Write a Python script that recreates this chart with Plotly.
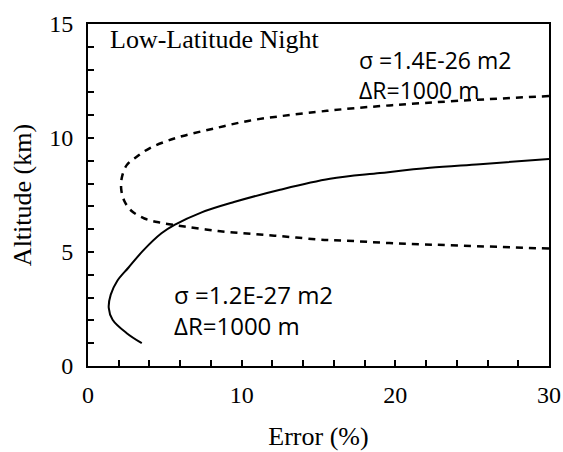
import plotly.graph_objects as go

# sigma = 1.2E-27 m2 (solid)
solid_err = [3.5, 2.5, 1.6, 1.35, 1.48, 1.9, 2.64, 3.6, 4.78, 5.63, 7.36, 9.5, 12.5, 15.75, 19.0, 22.25, 25.5, 30.0]
solid_alt = [1.0, 1.45, 2.03, 2.55, 3.13, 3.73, 4.32, 5.07, 5.82, 6.19, 6.73, 7.19, 7.73, 8.21, 8.46, 8.69, 8.85, 9.08]

# sigma = 1.4E-26 m2 (dashed)
dash_err = [30.0, 24.3, 20.0, 16.7, 15.0, 12.8, 10.6, 8.46, 6.28, 4.76, 3.67, 2.8, 2.35, 2.16, 2.21, 2.52, 3.17,
            4.03, 5.1, 6.18, 8.34, 10.5, 12.67, 14.83, 16.56, 19.8, 24.1, 30.0]
dash_alt = [5.15, 5.28, 5.38, 5.5, 5.55, 5.68, 5.8, 5.92, 6.12, 6.28, 6.47, 6.82, 7.26, 7.77, 8.29, 8.81, 9.18,
            9.56, 9.86, 10.09, 10.44, 10.76, 10.97, 11.14, 11.26, 11.44, 11.63, 11.84]

x_ticks = [0, 10, 20, 30]
y_ticks = [0, 5, 10, 15]

serif = "Liberation Serif"
sans = "Open Sans"

fig = go.Figure()
fig.add_trace(go.Scatter(x=solid_err, y=solid_alt, mode="lines", line=dict(color="black", width=2, shape="spline"),
                         showlegend=False))
fig.add_trace(go.Scatter(x=dash_err, y=dash_alt, mode="lines",
                         line=dict(color="black", width=2.5, dash="7px,6px", shape="spline"), showlegend=False))

fig.add_annotation(x=1.3, y=14.3, text="Low-Latitude Night", showarrow=False, xanchor="left", yanchor="middle",
                   font=dict(family=serif, size=26, color="black"))
fig.add_annotation(x=17.5, y=12.76, text="σ =1.4E-26 m2<br>ΔR=1000 m", showarrow=False, xanchor="left",
                   yanchor="middle", align="left", font=dict(family=sans, size=23, color="black"))
fig.add_annotation(x=5.45, y=2.46, text="σ =1.2E-27 m2<br>ΔR=1000 m", showarrow=False, xanchor="left",
                   yanchor="middle", align="left", font=dict(family=sans, size=24, color="black"))

fig.update_layout(
    width=563, height=452,
    margin=dict(l=88, r=14, t=24, b=86),
    plot_bgcolor="white", paper_bgcolor="white",
    xaxis=dict(range=[0, 30], tickvals=x_ticks, ticks="inside", ticklen=6, tickwidth=1.5, tickcolor="black",
               minor=dict(dtick=2, ticks="inside", ticklen=6, tickwidth=1.5, tickcolor="black"),
               showline=True, linecolor="black", linewidth=2, mirror=True, showgrid=False, zeroline=False,
               automargin=False,
               tickfont=dict(family=serif, size=24, color="black"), ticklabelstandoff=6,
               title=dict(text="Error (%)", font=dict(family=serif, size=26, color="black"), standoff=20)),
    yaxis=dict(range=[0, 15], tickvals=y_ticks, ticks="inside", ticklen=6, tickwidth=1.5, tickcolor="black",
               minor=dict(dtick=1, ticks="inside", ticklen=6, tickwidth=1.5, tickcolor="black"),
               showline=True, linecolor="black", linewidth=2, mirror=True, showgrid=False, zeroline=False,
               automargin=False,
               tickfont=dict(family=serif, size=24, color="black"), ticklabelstandoff=8,
               title=dict(text="Altitude (km)", font=dict(family=serif, size=26, color="black"), standoff=10)),
)

# remove the page's default body margin so the 563x452 figure fills the window exactly
fig.write_html("out.html", config={"displayModeBar": False},
               post_script="document.body.style.margin='0';document.body.style.overflow='hidden';")
